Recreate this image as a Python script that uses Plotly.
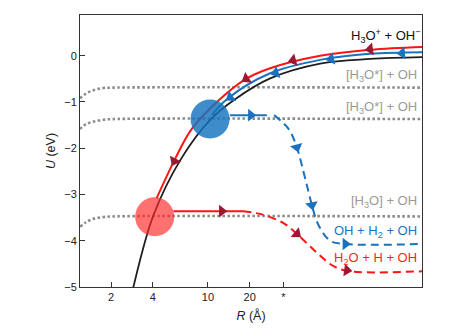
import plotly.graph_objects as go

# ---------------- data (R in Å, U in eV) ----------------
black_R = [2.75, 2.9, 4.02, 6.4, 10.5, 15.7, 28.1, 64.5, 148, 350]
black_U = [-5.3, -5.0, -3.47, -2.23, -1.37, -0.94, -0.49, -0.17, -0.07, -0.03]

red_R = [4.27, 5.8, 7.65, 12.2, 18.6, 28.1, 64.5, 148, 350]
red_U = [-3.08, -2.23, -1.58, -0.94, -0.51, -0.27, 0.0, 0.13, 0.19]

blue_R = [10.7, 13.7, 28.1, 64.5, 148, 350]
blue_U = [-1.28, -0.94, -0.38, -0.09, 0.04, 0.075]

red_flat_R = [5.63, 17.9]
red_flat_U = [-3.36, -3.36]
red_dash_R = [17.9, 25.1, 35.1, 43.8, 61.1, 80.5, 106, 350]
red_dash_U = [-3.36, -3.44, -3.62, -3.85, -4.26, -4.55, -4.66, -4.66]

blue_flat_R = [14.4, 26.6]
blue_flat_U = [-1.285, -1.285]
blue_dash_R = [30.0, 38.1, 43.8, 47.6, 53.1, 56.2, 62.7, 76.2, 97.8, 350]
blue_dash_U = [-1.285, -1.58, -1.98, -2.37, -2.94, -3.23, -3.66, -4.0, -4.07, -4.07]

dot_R = [1.195, 1.32, 1.48, 1.74, 2.06, 350]
dot1_U = [-0.92, -0.82, -0.75, -0.70, -0.69, -0.69]
dot2_U = [-1.585, -1.48, -1.43, -1.385, -1.37, -1.37]
dot3_U = [-3.70, -3.60, -3.53, -3.49, -3.475, -3.475]

red_arrow_R = [148, 41.2, 18.9, 5.73, 12.6, 43.8, 100.6]
red_arrow_U = [0.14, -0.10, -0.50, -2.28, -3.36, -3.85, -4.64]
red_arrow_ang = [262, 255, 238, 207, 90, 130, 98]

blue_arrow_R = [252, 77.5, 30.9, 14.5, 20.4, 43.8, 56.2, 98]
blue_arrow_U = [0.055, -0.07, -0.37, -0.90, -1.285, -1.98, -3.23, -4.07]
blue_arrow_ang = [265, 258, 252, 235, 90, 165, 170, 90]

circle_R = [10.36, 4.13]
circle_U = [-1.37, -3.48]

x_ticks = [2, 4, 10, 20, 35]
x_ticktext = ["2", "4", "10", "20", "*"]
y_ticks = [0, -1, -2, -3, -4, -5]

labels = [
    ("H<sub>3</sub>O<sup>+</sup> + OH<sup>−</sup>", 0.43, "#111111", 1.003),
    ("[H<sub>3</sub>O*] + OH", -0.43, "#9a9a9a", 0.99),
    ("[H<sub>3</sub>O*] + OH", -1.11, "#9a9a9a", 0.99),
    ("[H<sub>3</sub>O] + OH", -3.15, "#9a9a9a", 0.99),
    ("OH + H<sub>2</sub> + OH", -3.80, "#1a75c2", 0.99),
    ("H<sub>2</sub>O + H + OH", -4.375, "#ff1f1f", 0.99),
]

# ---------------- styles ----------------
RED = "#ff1414"
BLUE = "#1a72bf"
DARKRED = "#9e1733"
GRAY = "#8c8c8c"
FONT = "Liberation Sans, Arial, sans-serif"

fig = go.Figure()

for u in (dot1_U, dot2_U, dot3_U):
    fig.add_trace(go.Scatter(x=dot_R, y=u, mode="lines", line_shape="spline",
                             line=dict(color=GRAY, width=2.6, dash="2.6px,2.4px")))

fig.add_trace(go.Scatter(x=black_R, y=black_U, mode="lines", line_shape="spline",
                         line=dict(color="#1e1e1e", width=1.8)))
fig.add_trace(go.Scatter(x=blue_R, y=blue_U, mode="lines", line_shape="spline",
                         line=dict(color=BLUE, width=2)))
fig.add_trace(go.Scatter(x=red_R, y=red_U, mode="lines", line_shape="spline",
                         line=dict(color=RED, width=2)))

fig.add_trace(go.Scatter(x=red_flat_R, y=red_flat_U, mode="lines",
                         line=dict(color=RED, width=2)))
fig.add_trace(go.Scatter(x=red_dash_R, y=red_dash_U, mode="lines", line_shape="spline",
                         line=dict(color=RED, width=2, dash="8px,5px")))
fig.add_trace(go.Scatter(x=blue_flat_R, y=blue_flat_U, mode="lines",
                         line=dict(color=BLUE, width=2)))
fig.add_trace(go.Scatter(x=blue_dash_R, y=blue_dash_U, mode="lines", line_shape="spline",
                         line=dict(color=BLUE, width=2, dash="8px,5px")))

fig.add_trace(go.Scatter(x=circle_R, y=circle_U, mode="markers",
                         marker=dict(symbol="circle", size=39,
                                     color=["rgba(20,115,190,0.82)", "rgba(255,40,40,0.66)"],
                                     line=dict(width=0))))

fig.add_trace(go.Scatter(x=red_arrow_R, y=red_arrow_U, mode="markers",
                         marker=dict(symbol="triangle-up", size=11, color=DARKRED,
                                     angle=red_arrow_ang, line=dict(width=0))))
fig.add_trace(go.Scatter(x=blue_arrow_R, y=blue_arrow_U, mode="markers",
                         marker=dict(symbol="triangle-up", size=11, color=BLUE,
                                     angle=blue_arrow_ang, line=dict(width=0))))

for text, yv, col, xp in labels:
    fig.add_annotation(x=xp, xref="paper", y=yv, yref="y", text=text, showarrow=False,
                       xanchor="right", yanchor="middle",
                       font=dict(family=FONT, size=13, color=col))

fig.update_layout(
    width=468, height=333,
    margin=dict(l=80, r=46, t=15, b=44),
    paper_bgcolor="white", plot_bgcolor="white",
    showlegend=False,
    font=dict(family=FONT, size=11, color="#222222"),
    xaxis=dict(type="log", range=[0.0774, 2.544], tickvals=x_ticks, ticktext=x_ticktext,
               ticks="inside", ticklen=5, tickcolor="#333", showline=True, linecolor="#333",
               linewidth=1, mirror=True, showgrid=False, zeroline=False,
               title=dict(text="<i>R</i> (Å)", font=dict(size=12.5), standoff=9),
               tickfont=dict(size=11)),
    yaxis=dict(range=[-5, 0.88], tickvals=y_ticks, ticks="inside", ticklen=5,
               tickcolor="#333", showline=True, linecolor="#333", linewidth=1, mirror=True,
               showgrid=False, zeroline=False,
               title=dict(text="<i>U</i> (eV)", font=dict(size=12.5), standoff=5),
               tickfont=dict(size=11)),
)

fig.write_html("out.html")
